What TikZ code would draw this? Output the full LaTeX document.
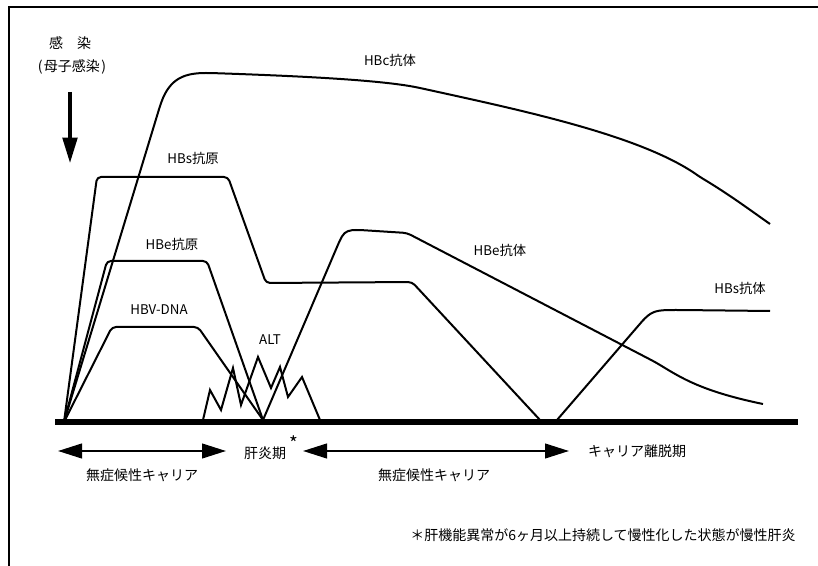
\documentclass[tikz,border=0pt]{standalone}
\usepackage{fontspec}
\setmainfont{Noto Sans CJK JP}
\usetikzlibrary{arrows.meta}
\begin{document}
\begin{tikzpicture}[x=0.75pt,y=-0.75pt,
  curve/.style={line width=1.5pt, line join=round, rounded corners=3pt},
  lbl/.style={font=\fontsize{10}{12}\selectfont, inner sep=0pt},
  btxt/.style={font=\fontsize{10.5}{12}\selectfont, inner sep=0pt},
  darrow/.style={line width=1.6pt, {Triangle[length=18pt,width=11pt]}-{Triangle[length=18pt,width=11pt]}}]
\useasboundingbox (0,0) rectangle (818,566);
% frame
\draw[line width=1.6pt] (9,566) -- (9,7) -- (818,7);
% baseline
\coordinate (b0) at (55,422);
\coordinate (b1) at (798,422);
\draw[line width=4.5pt] (b0) -- (b1);
% infection label and arrow
\node[btxt] (kansen) at (70,43) {感\hspace{1em}染};
\node[btxt] (boshi) at (72,67) {(\kern1pt 母子感染\kern1pt)};
\coordinate (a1) at (70,92);
\coordinate (a2) at (70,163);
\draw[line width=2.4pt, -{Triangle[length=19pt,width=11pt]}] (a1) -- (a2);
% HBc antibody
\draw[curve] (64,422) -- (160,106) .. controls (170,78) and (185,73) .. (210,73)
  .. controls (300,76) and (380,80) .. (420,88)
  .. controls (520,110) and (640,135) .. (700,177)
  .. controls (730,195) and (750,210) .. (770,224);
% HBs antigen
\draw[curve] (64,422) -- (97,177) -- (228,177) -- (266,283) -- (412,282) -- (540,420);
% HBe antigen
\draw[curve] (64,422) -- (107,261) -- (207,261) -- (263,420);
% HBV-DNA
\draw[curve] (64,422) -- (112,327) -- (198,327) -- (263,420);
% ALT
\draw[line width=1.5pt, line join=miter] (203,420) -- (210,390) -- (221,410) -- (233,368) -- (241,405)
  -- (258,357) -- (271,388) -- (280,367) -- (288,397) -- (302,377) -- (320,420);
% HBe antibody
\draw[curve] (263,420) -- (340,240) .. controls (345,231) and (350,230) .. (360,230)
  -- (407,233) -- (655,362) .. controls (680,377) and (700,391) .. (763,404);
% HBs antibody
\draw[curve] (557,420) -- (645,318) .. controls (655,310) and (662,310) .. (680,310) -- (770,311);
% curve labels
\node[lbl] (hbc) at (390,60) {HBc抗体};
\node[lbl] (hbsag) at (193,158) {HBs抗原};
\node[lbl] (hbeag) at (172,244) {HBe抗原};
\node[lbl] (dna) at (159,310) {HBV-DNA};
\node[lbl] (alt) at (270,340) {ALT};
\node[lbl] (hbeab) at (500,250) {HBe抗体};
\node[lbl] (hbsab) at (740,288) {HBs抗体};
% bottom phases
\coordinate (l1) at (58,451);
\coordinate (l2) at (226,451);
\coordinate (r1) at (303,451);
\coordinate (r2) at (569,451);
\draw[darrow] (l1) -- (l2);
\draw[darrow] (r1) -- (r2);
\node[btxt] (kanen) at (265,453) {肝炎期};
\node[font=\fontsize{14}{14}\selectfont, inner sep=0pt] (ast) at (294,443) {*};
\node[btxt] (ridatsu) at (637,451) {キャリア離脱期};
\node[btxt] (mu1) at (142,475) {無症候性キャリア};
\node[btxt] (mu2) at (434,475) {無症候性キャリア};
\node[btxt, anchor=east] (note) at (796,535) {＊肝機能異常が6ヶ月以上持続して慢性化した状態が慢性肝炎};
\end{tikzpicture}
\end{document}
